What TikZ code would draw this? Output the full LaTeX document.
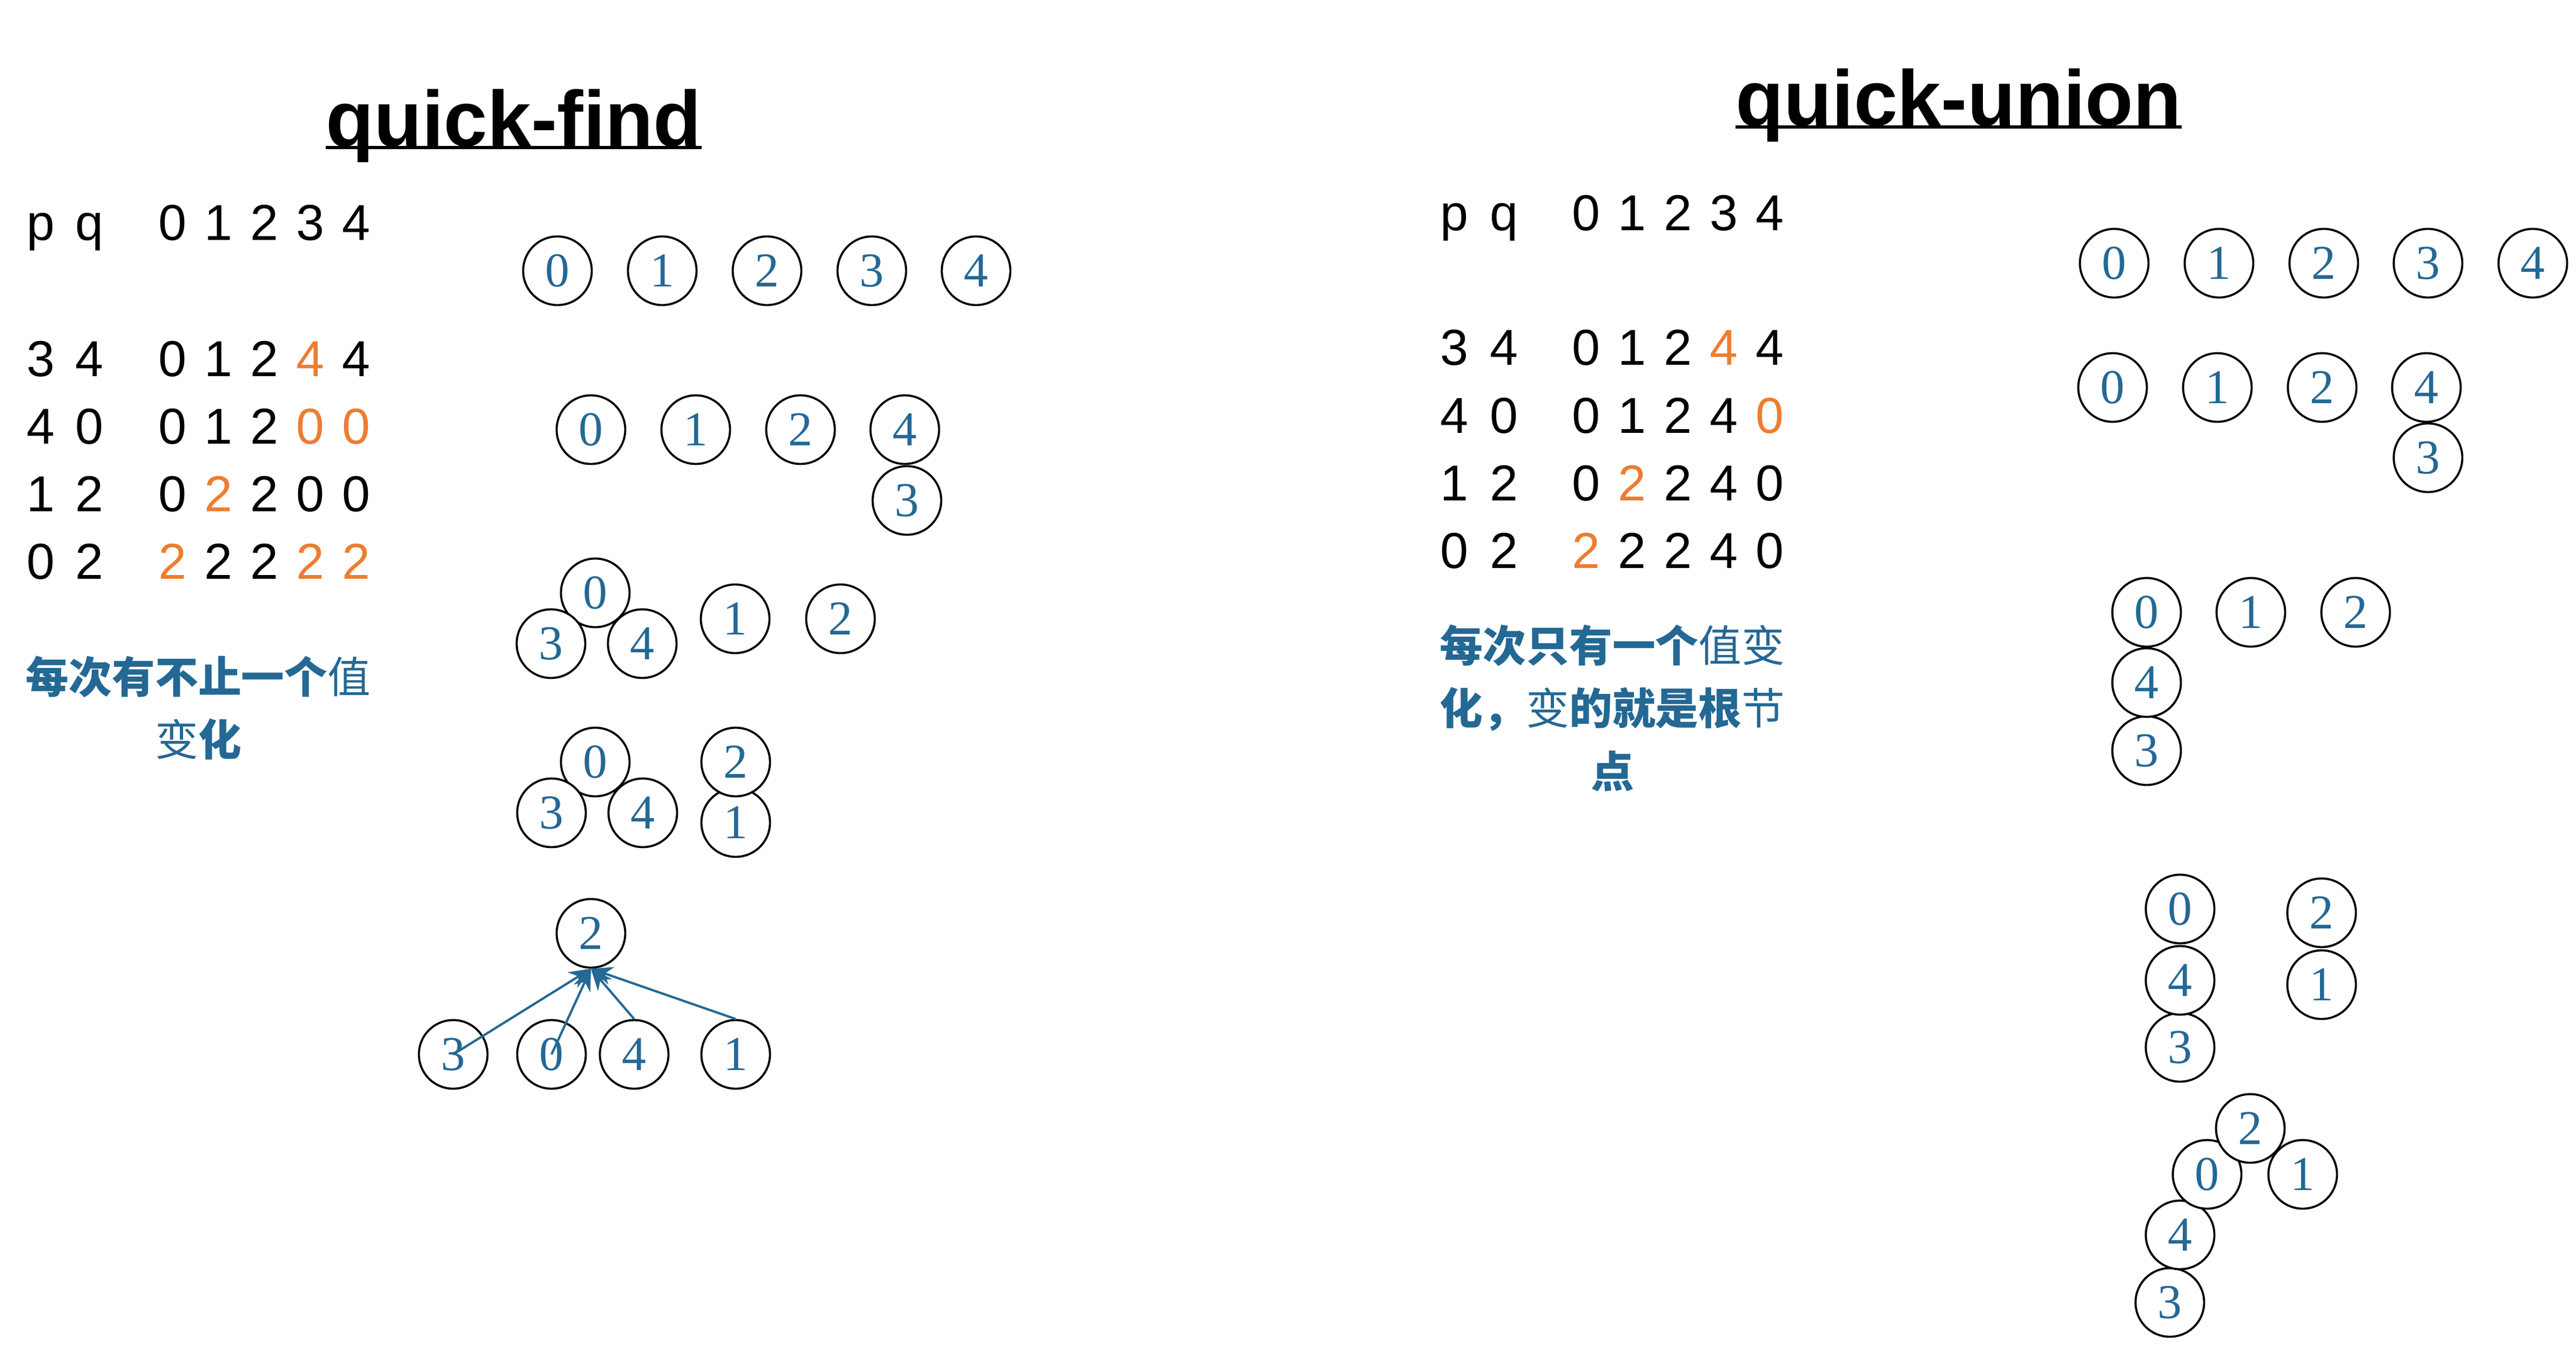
\documentclass[tikz,border=0pt]{standalone}
\usepackage{fontspec}
\setmainfont{Liberation Sans}
\newfontfamily\ringfont{Liberation Serif}
\newfontfamily\cjk{Noto Sans CJK SC}
\usetikzlibrary{arrows.meta}
\definecolor{nodeblue}{RGB}{36,104,148}
\definecolor{hlorange}{RGB}{237,125,49}
\newcommand\hl[1]{\textcolor{hlorange}{#1}}

\begin{document}
\begin{tikzpicture}[x=1cm,y=-1cm,
ring/.style={circle,draw,fill=white,line width=1.1pt,minimum size=1.27cm,inner sep=0pt,text=nodeblue,font=\ringfont\fontsize{25.6}{30}\selectfont},
digit/.style={anchor=base,inner sep=0pt,font=\fontsize{26.6}{32}\selectfont},
heading/.style={anchor=base,inner sep=0pt,font=\bfseries\fontsize{41.4}{50}\selectfont},
underbar/.style={line width=0.06cm},
note/.style={align=center,text=nodeblue,inner sep=0pt,font=\cjk\fontsize{22.7}{33.2}\selectfont},
link/.style={nodeblue,line width=1.2pt,-{Stealth[length=0.4cm,width=0.34cm]}}]
\useasboundingbox (0,0) rectangle (47.69,25.10);

\node[heading] (findtitle) at (9.51,2.70) {quick-find};
\node[heading] (uniontitle) at (36.26,2.32) {quick-union};
\draw[underbar] ([yshift=-0.03cm]findtitle.base west) -- ([yshift=-0.03cm]findtitle.base east);
\draw[underbar] ([yshift=-0.03cm]uniontitle.base west) -- ([yshift=-0.03cm]uniontitle.base east);

\foreach \y/\p/\q/\vals [count=\r] in {4.44/p/q/{0,1,2,3,4},6.96/3/4/{0,1,2,\hl{4},4},8.21/4/0/{0,1,2,\hl{0},\hl{0}},9.46/1/2/{0,\hl{2},2,0,0},10.71/0/2/{\hl{2},2,2,\hl{2},\hl{2}}}{
  \node[digit] (fp\r) at (0.75,\y) {\p};
  \node[digit] (fq\r) at (1.65,\y) {\q};
  \foreach \v [count=\k] in \vals
    \node[digit] (f\r v\k) at (2.34+0.85*\k,\y) {\v};
}
\foreach \y/\p/\q/\vals [count=\r] in {4.26/p/q/{0,1,2,3,4},6.75/3/4/{0,1,2,\hl{4},4},8.01/4/0/{0,1,2,4,\hl{0}},9.26/1/2/{0,\hl{2},2,4,0},10.51/0/2/{\hl{2},2,2,4,0}}{
  \node[digit] (up\r) at (26.92,\y) {\p};
  \node[digit] (uq\r) at (27.84,\y) {\q};
  \foreach \v [count=\k] in \vals
    \node[digit] (u\r v\k) at (28.51+0.85*\k,\y) {\v};
}

\node[note] (findnote) at (3.67,13.10) {\bfseries 每次有不止一个\mdseries 值\\变\bfseries 化};
\node[note] (unionnote) at (29.85,13.10) {\bfseries 每次只有一个\mdseries 值变\\\bfseries 化，\mdseries 变\bfseries 的就是根\mdseries 节\\\bfseries 点};

\foreach \x [count=\i from 0] in {10.32,12.26,14.20,16.14,18.07}
  \node[ring] (fa\i) at (\x,5.01) {\i};
\node[ring] (fb3) at (16.79,9.26) {3};
\node[ring] (fb0) at (10.94,7.95) {0};
\node[ring] (fb1) at (12.88,7.95) {1};
\node[ring] (fb2) at (14.82,7.95) {2};
\node[ring] (fb4) at (16.75,7.95) {4};

\node[ring] (fc0) at (11.02,10.97) {0};
\node[ring] (fc3) at (10.20,11.91) {3};
\node[ring] (fc4) at (11.89,11.91) {4};
\node[ring] (fc1) at (13.61,11.45) {1};
\node[ring] (fc2) at (15.56,11.45) {2};

\node[ring] (fd0) at (11.02,14.10) {0};
\node[ring] (fd3) at (10.21,15.04) {3};
\node[ring] (fd4) at (11.90,15.04) {4};
\node[ring] (fd1) at (13.62,15.22) {1};
\node[ring] (fd2) at (13.62,14.10) {2};

\node[ring] (fe2) at (10.94,17.27) {2};
\node[ring] (fe3) at (8.39,19.51) {3};
\node[ring] (fe0) at (10.21,19.51) {0};
\node[ring] (fe4) at (11.74,19.51) {4};
\node[ring] (fe1) at (13.62,19.51) {1};
\foreach \s in {fe3.center,fe0.center,fe4.north,fe1.north}
  \draw[link] (\s) -- (fe2.south);

\foreach \x [count=\i from 0] in {39.14,41.08,43.02,44.95,46.89}
  \node[ring] (ua\i) at (\x,4.87) {\i};
\node[ring] (ub3) at (44.95,8.47) {3};
\node[ring] (ub0) at (39.11,7.17) {0};
\node[ring] (ub1) at (41.05,7.17) {1};
\node[ring] (ub2) at (42.99,7.17) {2};
\node[ring] (ub4) at (44.92,7.17) {4};

\node[ring] (uc3) at (39.74,13.89) {3};
\node[ring] (uc4) at (39.74,12.63) {4};
\node[ring] (uc0) at (39.74,11.33) {0};
\node[ring] (uc1) at (41.67,11.33) {1};
\node[ring] (uc2) at (43.61,11.33) {2};

\node[ring] (ud3) at (40.36,19.38) {3};
\node[ring] (ud4) at (40.36,18.14) {4};
\node[ring] (ud0) at (40.36,16.82) {0};
\node[ring] (ud1) at (42.98,18.22) {1};
\node[ring] (ud2) at (42.98,16.89) {2};

\node[ring] (ue3) at (40.17,24.10) {3};
\node[ring] (ue4) at (40.36,22.85) {4};
\node[ring] (ue0) at (40.86,21.73) {0};
\node[ring] (ue1) at (42.63,21.73) {1};
\node[ring] (ue2) at (41.66,20.88) {2};
\end{tikzpicture}
\end{document}
